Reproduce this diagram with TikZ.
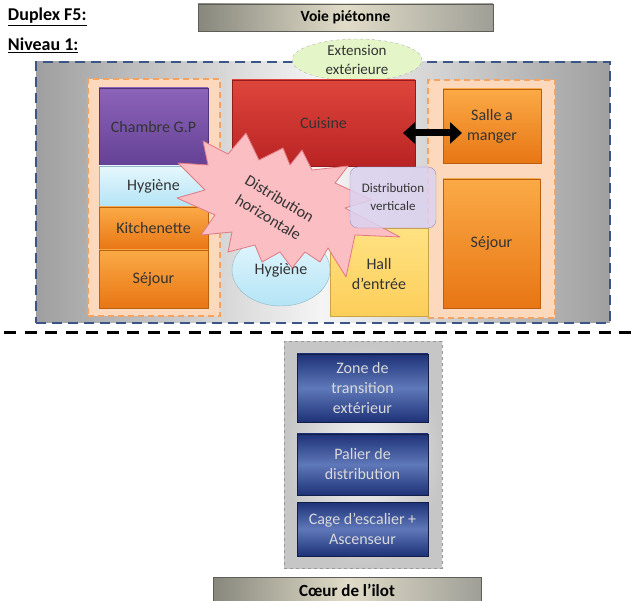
\documentclass[tikz,border=0pt]{standalone}
\usepackage{fontspec}
\setmainfont{Carlito}
\usetikzlibrary{shapes.geometric,arrows.meta}
\definecolor{peach}{RGB}{252,216,188}
\definecolor{peachline}{RGB}{244,164,96}
\definecolor{orangetop}{RGB}{250,170,70}
\definecolor{orangebot}{RGB}{232,118,20}
\definecolor{purpletop}{RGB}{140,100,185}
\definecolor{purplebot}{RGB}{100,65,150}
\definecolor{hygtop}{RGB}{230,247,253}
\definecolor{hygbot}{RGB}{180,228,246}
\definecolor{redtop}{RGB}{222,70,60}
\definecolor{redbot}{RGB}{185,35,35}
\definecolor{halltop}{RGB}{255,226,130}
\definecolor{hallbot}{RGB}{252,206,90}
\definecolor{lilac}{RGB}{220,210,240}
\definecolor{burst}{RGB}{250,190,195}
\definecolor{burstline}{RGB}{225,120,130}
\definecolor{extgreen}{RGB}{228,245,200}
\definecolor{navy}{RGB}{30,50,120}
\definecolor{navymid}{RGB}{95,120,185}
\definecolor{bordblue}{RGB}{60,85,135}
\definecolor{bargray}{RGB}{135,135,125}
\definecolor{barbeige}{RGB}{225,220,200}

\begin{document}
\begin{tikzpicture}[x=1pt,y=-1pt,
  every node/.style={inner sep=0pt,outer sep=0pt,font=\fontsize{16}{20}\selectfont},
  group/.style={draw=peachline,fill=peach,line width=1.5pt,dash pattern=on 6pt off 4pt},
  room/.style={draw=#1bot!80!black,top color=#1top,bottom color=#1bot,text=black!80,align=center},
  bluebox/.style={draw=navy!60!black,top color=navy,bottom color=navy,middle color=navymid,text=white!85!black,align=center},
  bar/.style={draw=bargray!70!black,left color=bargray,right color=bargray!80,middle color=barbeige,font=\fontsize{15.5}{18}\selectfont\bfseries}
]
\useasboundingbox (0,0) rectangle (632,601);

 %titres
 \node[anchor=west,font=\fontsize{18}{20}\selectfont\bfseries] (duplex) at (8,17) {\underline{Duplex F5:}};
 \node[anchor=west,font=\fontsize{18}{20}\selectfont\bfseries] (niveau) at (8,45) {\underline{Niveau 1:}};
 \node[bar,minimum width=295pt,minimum height=27pt] (voie) at (345.5,17.5) {Voie piétonne};

 %niveau 1
 \node[draw=bordblue,line width=1.5pt,dash pattern=on 10pt off 6pt,left color=gray!75,right color=gray!75,middle color=gray!8,
   minimum width=574pt,minimum height=261pt] (niv) at (323,192.5) {};
 \node[ellipse,draw=gray!60,dashed,fill=extgreen,minimum width=130pt,minimum height=42pt,align=center,
   font=\fontsize{15}{19}\selectfont,text=black!80] (ext) at (357,60) {Extension\\extérieure};

 \node[group,minimum width=132pt,minimum height=237pt] (gauche) at (154,197.5) {};
 \node[room=purple,minimum width=109pt,minimum height=78pt] (chambre) at (153.5,127) {Chambre G.P};
 \node[room=hyg,minimum width=109pt,minimum height=40pt] (hyg1) at (153.5,186) {Hygiène};
 \node[room=orange,minimum width=109pt,minimum height=43pt] (kitch) at (153.5,228.5) {Kitchenette};
 \node[room=orange,minimum width=109pt,minimum height=58pt] (sejour1) at (153.5,279) {Séjour};

 \node[room=red,minimum width=183pt,minimum height=86pt] (cuisine) at (323.5,123) {Cuisine};

 \node[group,minimum width=127pt,minimum height=238pt] (droite) at (491.5,199) {};
 \node[room=orange,minimum width=98pt,minimum height=74pt] (salle) at (492,126) {Salle a\\manger};
 \node[room=orange,minimum width=97pt,minimum height=129pt] (sejour2) at (491.5,243.5) {Séjour};

 \node[room=hall,minimum width=98pt,minimum height=88pt] (hall) at (379,272) {};
 \node[align=center,text=black!80] (hallT) at (379,274) {Hall\\d’entrée};
 \node[ellipse,room=hyg,minimum width=98pt,minimum height=72pt] (hyg2) at (281,270) {Hygiène};

 %etoile
 \draw[burstline,fill=burst,line width=0.8pt,line join=round]
   (203,141) -- (228,154) -- (246,133) -- (259,160) -- (283,148) -- (290,165) -- (302,150) -- (312,170)
   -- (348,166) -- (335,183) -- (372,200) -- (345,208) -- (400,237) -- (355,235) -- (346,277) -- (328,248)
   -- (320,262) -- (305,252) -- (292,268) -- (280,252) -- (262,262) -- (255,245) -- (228,252) -- (232,232)
   -- (201,235) -- (215,215) -- (177,198) -- (205,190) -- (178,163) -- (208,165) -- cycle;
 \node[align=center,rotate=-31,text=black!80,font=\fontsize{16}{22}\selectfont] (distH) at (274,208) {Distribution\\horizontale};

 \node[draw=purplebot!60,fill=lilac,fill opacity=0.85,text opacity=1,rounded corners=8pt,minimum width=86pt,minimum height=61pt,align=center,
   font=\fontsize{13}{18}\selectfont,text=black!80] (distv) at (393,197.5) {Distribution\\verticale};

 \coordinate (flg) at (403,133);
 \coordinate (fld) at (462,133);
 \draw[line width=7pt,{Triangle[length=12pt,width=21pt]}-{Triangle[length=12pt,width=21pt]}] (flg) -- (fld);

 %separation
 \draw[line width=3pt,dash pattern=on 12pt off 8.5pt] (4,333) -- (632,333);

 %noyau
 \node[draw=gray!80,dashed,line width=1pt,inner color=gray!8,outer color=gray!45,minimum width=158pt,minimum height=226pt] (noyau) at (363,455) {};
 \node[bluebox,minimum width=131pt,minimum height=68pt] (zone) at (362.5,388) {Zone de\\transition\\extérieur};
 \node[bluebox,minimum width=131pt,minimum height=61pt] (palier) at (362.5,464.5) {Palier de\\distribution};
 \node[bluebox,minimum width=131pt,minimum height=54pt] (cage) at (362.5,529) {Cage d’escalier +\\Ascenseur};

 \node[bar,minimum width=268pt,minimum height=27pt,font=\fontsize{17}{18}\selectfont\bfseries] (coeur) at (347,590.5) {Cœur de l’ilot};
\end{tikzpicture}
\end{document}
